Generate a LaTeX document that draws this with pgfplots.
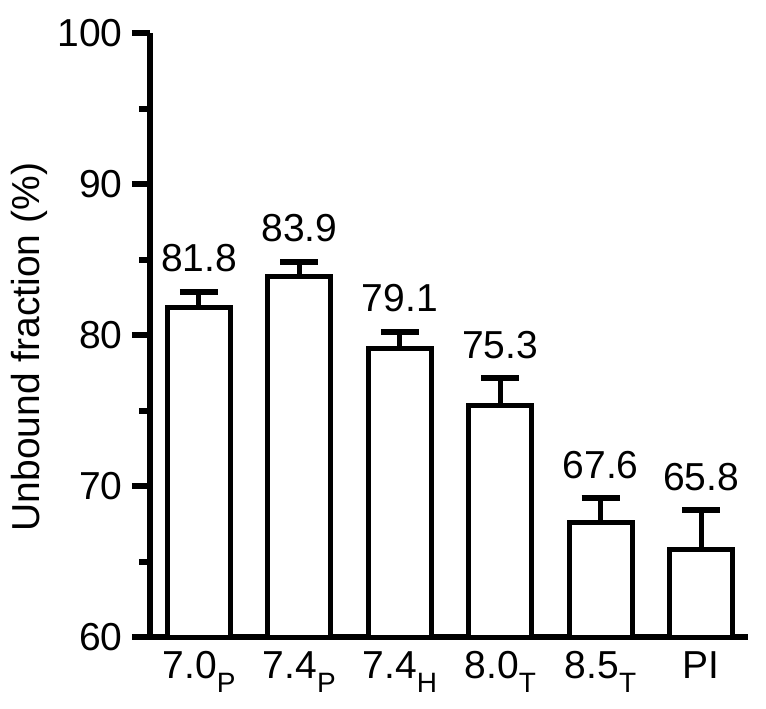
\documentclass[border=0pt]{standalone}
\usepackage{pgfplots}
\pgfplotsset{compat=1.18}
\usepackage{fontspec}
\setmainfont{Liberation Sans}
% lowered, smaller subscript letter for the tick labels
\newcommand{\sub}[1]{\raisebox{-0.36em}{\fontsize{14}{16}\selectfont #1}}

\begin{document}
\begin{tikzpicture}
\path[use as bounding box] (-75pt,-35.5pt) rectangle (308pt,318.5pt);
\begin{axis}[
    anchor=south west, at={(0,0)},
    width=299pt, height=302pt, scale only axis,
    xmin=-0.488, xmax=5.468,
    ymin=60, ymax=100,
    axis x line=bottom, axis y line=left,
    axis line style={-, line width=3pt, black},
    ytick={60,70,80,90,100},
    minor ytick={65,75,85,95},
    tick align=outside,
    major tick length=9pt, minor tick length=5.5pt,
    ytick style={line width=3pt, black},
    xtick={0,1,2,3,4,5},
    xticklabels={{7.0\sub{P}},{7.4\sub{P}},{7.4\sub{H}},{8.0\sub{T}},{8.5\sub{T}},{PI}},
    xtick style={draw=none},
    font=\fontsize{19.5}{23}\selectfont,
    /pgf/number format/assume math mode=true,
    xticklabel style={anchor=base, yshift=-11.5pt, inner sep=0pt},
    yticklabel style={anchor=east, inner sep=0pt, xshift=-4.5pt},
    ylabel={Unbound fraction (\%)},
    ylabel style={at={(axis description cs:-0.184,0.48)}, anchor=base},
]
\addplot[ybar, bar width=31.5pt, fill=white, draw=black, line width=2.5pt,
    error bars/.cd, y dir=plus, y explicit, error mark=-,
    error bar style={line width=2.5pt, black},
    error mark options={rotate=90, line width=3pt, mark size=9.5pt, black}]
coordinates {
    (0,81.8) +- (0,1.05)
    (1,83.9) +- (0,0.95)
    (2,79.1) +- (0,1.1)
    (3,75.3) +- (0,1.85)
    (4,67.6) +- (0,1.6)
    (5,65.8) +- (0,2.6)
};
\addplot[draw=none, nodes near coords, point meta=explicit symbolic,
    every node near coord/.append style={anchor=base, yshift=10pt, inner sep=0pt, font=\fontsize{19.5}{23}\selectfont}]
coordinates {
    (0,82.85) [81.8]
    (1,84.85) [83.9]
    (2,80.2) [79.1]
    (3,77.15) [75.3]
    (4,69.2) [67.6]
    (5,68.4) [65.8]
};
\end{axis}
\end{tikzpicture}
\end{document}
